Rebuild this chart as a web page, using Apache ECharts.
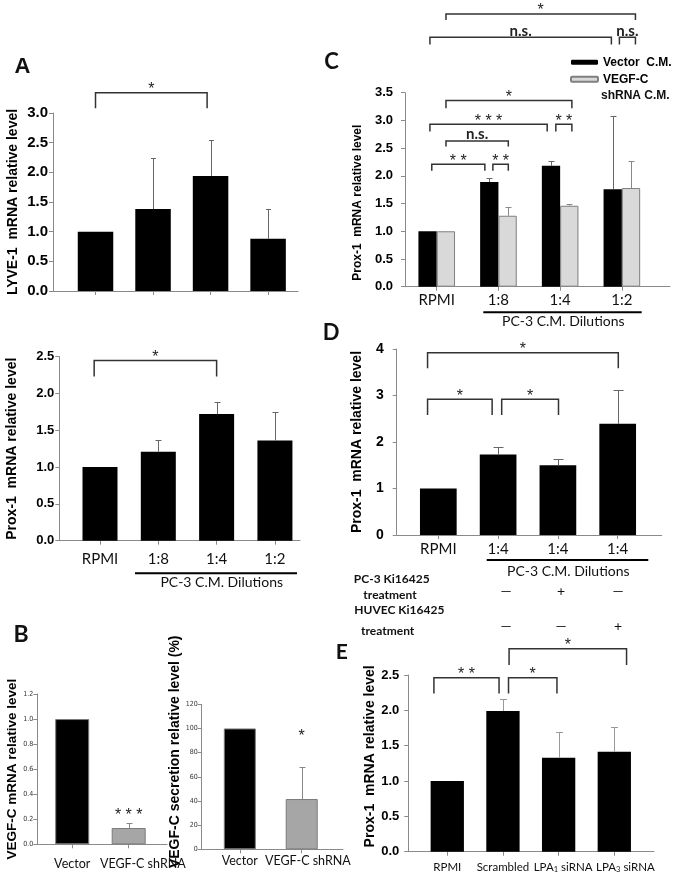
<!DOCTYPE html>
<html>
<head>
<meta charset="utf-8">
<script src="https://cdn.jsdelivr.net/npm/echarts@6/dist/echarts.min.js"></script>
<style>
html, body { margin: 0; padding: 0; background: #fff; }
#chart { width: 679px; height: 878px; }
</style>
</head>
<body>
<div id="chart"></div>
<script>
"use strict";

// A (top): LYVE-1 mRNA
var lyveCats = ["RPMI", "1:8", "1:4", "1:2"];
var lyveMean = [1.0, 1.38, 1.94, 0.88];
var lyveSd = [0, 0.87, 0.60, 0.51];
var lyveTicks = [0, 0.5, 1.0, 1.5, 2.0, 2.5, 3.0];
var lyveBrackets = [[0, 1.94, 3.34, 3.08, "*"]];

// A (bottom): Prox-1 mRNA
var proxACats = ["RPMI", "1:8", "1:4", "1:2"];
var proxAMean = [1.0, 1.21, 1.72, 1.36];
var proxASd = [0, 0.16, 0.16, 0.39];
var proxATicks = [0, 0.5, 1.0, 1.5, 2.0, 2.5];
var proxABrackets = [[-0.1, 2.0, 2.45, 2.23, "*"]];

// B: VEGF-C knockdown
var vegfCats = ["Vector", "VEGF-C shRNA"];
var vegfMrnaMean = [1.0, 0.13];
var vegfMrnaSd = [0, 0.04];
var vegfMrnaTicks = [0, 0.2, 0.4, 0.6, 0.8, 1.0, 1.2];
var vegfMrnaStars = [[1, 0.25, "* * *"]];
var vegfSecMean = [100, 41.6];
var vegfSecSd = [0, 26.5];
var vegfSecTicks = [0, 20, 40, 60, 80, 100, 120];
var vegfSecStars = [[1, 96, "*"]];

// C: Prox-1 with conditioned media
var proxCCats = ["RPMI", "1:8", "1:4", "1:2"];
var proxCNames = ["Vector  C.M.", "VEGF-C shRNA C.M."];
var proxCVector = [1.0, 1.89, 2.18, 1.76];
var proxCVectorSd = [0, 0.07, 0.09, 1.32];
var proxCShrna = [1.0, 1.28, 1.46, 1.78];
var proxCShrnaSd = [0, 0.15, 0.03, 0.48];
var proxCTicks = [0, 0.5, 1.0, 1.5, 2.0, 2.5, 3.0, 3.5];
var proxCBrackets = [
    [-0.08, 0.78, 2.21, 2.09, "* *"],
    [0.91, 1.16, 2.21, 2.09, "* *"],
    [0.15, 1.16, 2.63, 2.53, "n.s."],
    [-0.11, 1.79, 2.93, 2.80, "* * *"],
    [1.93, 2.19, 2.93, 2.80, "* *"],
    [0.15, 2.19, 3.36, 3.22, "*"],
    [-0.11, 2.83, 4.50, 4.37, "n.s."],
    [2.96, 3.22, 4.50, 4.37, "n.s."],
    [0.15, 3.22, 4.92, 4.81, "*"]
];

// D: Ki16425 treatment
var proxDCats = ["RPMI", "1:4", "1:4", "1:4"];
var proxDMean = [1.0, 1.73, 1.50, 2.39];
var proxDSd = [0, 0.16, 0.135, 0.73];
var proxDTicks = [0, 1, 2, 3, 4];
var proxDBrackets = [
    [-0.18, 0.90, 2.92, 2.58, "*"],
    [1.06, 2.01, 2.92, 2.58, "*"],
    [-0.18, 3.01, 3.92, 3.585, "*"]
];
var pc3Treat = ["\u2014", "+", "\u2014"];
var huvecTreat = ["\u2014", "\u2014", "+"];

// E: LPA receptor siRNA
var proxECats = ["RPMI", "Scrambled", "LPA1 siRNA", "LPA3 siRNA"];
var proxEMean = [1.0, 1.99, 1.33, 1.415];
var proxESd = [0, 0.17, 0.36, 0.355];
var proxETicks = [0, 0.5, 1.0, 1.5, 2.0, 2.5];
var proxEBrackets = [
    [-0.24, 0.93, 2.46, 2.24, "* *"],
    [1.10, 1.97, 2.46, 2.24, "*"],
    [1.11, 3.22, 2.87, 2.64, "*"]
];

var ARIAL = "'Liberation Sans', Arial, sans-serif";
var CALIBRI = "Lato, 'Noto Sans', sans-serif";
var NARROW = "'Liberation Sans Narrow', 'DejaVu Sans Condensed', sans-serif";
var AXIS = "#8a8a8a";

var grids = [], xAxes = [], yAxes = [], series = [];

function addPanel(p) {
    var i = grids.length;
    var idx = p.cats.map(function (c, k) { return k; });
    var labelAt = p.labelPos || idx;
    var ticks = p.ticks;
    grids.push({ left: p.left, top: p.top, width: p.width, height: p.height });
    xAxes.push({
        gridIndex: i, type: "value", min: p.xMin, max: p.xMax,
        axisLine: { show: true, onZero: false, lineStyle: { color: AXIS, width: 1 } },
        axisTick: { show: true, customValues: idx, length: 4, lineStyle: { color: AXIS } },
        axisLabel: p.showCats === false ? { show: false } : {
            show: true, customValues: labelAt, margin: p.xMargin,
            showMinLabel: true, showMaxLabel: true, hideOverlap: false,
            fontFamily: CALIBRI, fontSize: p.xSize || 15, color: "#111",
            formatter: function (v) {
                var k = 0;
                labelAt.forEach(function (pos, j) { if (Math.abs(pos - v) < 1e-6) k = j; });
                return p.cats[k].replace(/LPA(\d)/, "LPA{s|$1}");
            },
            rich: { s: { fontFamily: CALIBRI, fontSize: 7.5, verticalAlign: "bottom", lineHeight: 12, color: "#111" } }
        },
        splitLine: { show: false }
    });
    yAxes.push({
        gridIndex: i, type: "value",
        min: ticks[0], max: ticks[ticks.length - 1], interval: ticks[1] - ticks[0],
        axisLine: { show: true, onZero: false, lineStyle: { color: AXIS, width: 1 } },
        axisTick: { show: true, length: 4, lineStyle: { color: AXIS } },
        axisLabel: {
            margin: p.yMargin, color: p.small ? "#333" : "#000",
            fontFamily: p.small ? NARROW : ARIAL, fontWeight: p.small ? "normal" : "bold",
            fontSize: p.ySize || 13,
            formatter: function (v) { return v.toFixed(p.dec); }
        },
        splitLine: { show: false },
        name: p.name, nameLocation: "middle", nameRotate: 90, nameGap: p.nameGap,
        nameTextStyle: {
            fontFamily: ARIAL, fontWeight: "bold", fontSize: p.nameSize, color: "#000",
            padding: p.namePad || 0
        }
    });
    return i;
}

function barSeries(i, name, vals, width, colors, border) {
    return {
        type: "bar", name: name, xAxisIndex: i, yAxisIndex: i, barWidth: width, barGap: "0%",
        silent: true, z: 2,
        itemStyle: { color: colors[0], borderColor: border || colors[0], borderWidth: border ? 1 : 0 },
        data: vals.map(function (v, k) {
            return { value: [k, v], itemStyle: { color: colors[k % colors.length] } };
        })
    };
}

function errorSeries(i, vals, sds, dx, cap, color) {
    return {
        type: "custom", xAxisIndex: i, yAxisIndex: i, z: 4, silent: true,
        data: vals.map(function (v, k) { return [k, v, sds[k]]; }),
        renderItem: function (params, api) {
            var sd = api.value(2);
            if (!sd) return null;
            var lo = api.coord([api.value(0), api.value(1)]);
            var hi = api.coord([api.value(0), api.value(1) + sd]);
            var x = Math.round(lo[0] + dx) + 0.5;
            var y = Math.round(hi[1]) + 0.5;
            return {
                type: "group", children: [
                    { type: "line", shape: { x1: x, y1: lo[1], x2: x, y2: y }, style: { stroke: color, lineWidth: 1 } },
                    { type: "line", shape: { x1: x - cap / 2, y1: y, x2: x + cap / 2, y2: y }, style: { stroke: color, lineWidth: 1 } }
                ]
            };
        }
    };
}

function bracketSeries(i, list) {
    return {
        type: "custom", xAxisIndex: i, yAxisIndex: i, z: 5, silent: true, clip: false,
        data: list.map(function (b) { return [b[0], b[2]]; }),
        renderItem: function (params, api) {
            var b = list[params.dataIndex];
            var p1 = api.coord([b[0], b[3]]), p2 = api.coord([b[0], b[2]]);
            var p3 = api.coord([b[1], b[2]]), p4 = api.coord([b[1], b[3]]);
            var star = b[4].indexOf("*") >= 0;
            return {
                type: "group", children: [
                    { type: "polyline", shape: { points: [p1, p2, p3, p4] },
                      style: { stroke: "#333", lineWidth: 1.5, fill: "none" } },
                    { type: "text", x: (p2[0] + p3[0]) / 2, y: star ? p2[1] - 3 : p2[1] + 1,
                      style: { text: b[4], fill: "#222", textAlign: "center",
                               textVerticalAlign: star ? "middle" : "bottom",
                               font: star ? "16px " + ARIAL : "bold 15px " + CALIBRI } }
                ]
            };
        }
    };
}

function starSeries(i, list) {
    return {
        type: "custom", xAxisIndex: i, yAxisIndex: i, z: 5, silent: true, clip: false,
        data: list.map(function (s) { return [s[0], s[1]]; }),
        renderItem: function (params, api) {
            var s = list[params.dataIndex];
            var p = api.coord([s[0], s[1]]);
            return { type: "text", x: p[0], y: p[1] + 3,
                     style: { text: s[2], fill: "#222", textAlign: "center", textVerticalAlign: "middle",
                              font: "16px " + ARIAL } };
        }
    };
}

// A top
var a1 = addPanel({ cats: lyveCats, showCats: false, ticks: lyveTicks, dec: 1,
    left: 53, top: 113, width: 245, height: 178, xMin: -0.739, xMax: 3.52,
    yMargin: 5, ySize: 15, name: "LYVE-1  mRNA relative level", nameGap: 33, nameSize: 14 });
series.push(barSeries(a1, "LYVE-1", lyveMean, 35.5, ["#000"]));
series.push(errorSeries(a1, lyveMean, lyveSd, 0, 5, "#666"));
series.push(bracketSeries(a1, lyveBrackets));

// A bottom
var a2 = addPanel({ cats: proxACats, ticks: proxATicks, dec: 1, xMargin: 11,
    left: 59.3, top: 356.7, width: 240.7, height: 184, xMin: -0.698, xMax: 3.43,
    yMargin: 5, name: "Prox-1  mRNA relative level", nameGap: 40, nameSize: 14 });
series.push(barSeries(a2, "Prox-1 A", proxAMean, 35, ["#000"]));
series.push(errorSeries(a2, proxAMean, proxASd, 0, 6, "#666"));
series.push(bracketSeries(a2, proxABrackets));

// B left
var b1 = addPanel({ cats: vegfCats, labelPos: [0, 1.25], ticks: vegfMrnaTicks, dec: 1, xMargin: 13, xSize: 12.5,
    small: true, ySize: 7,
    left: 37.3, top: 694, width: 129.7, height: 150.3, xMin: -0.618, xMax: 1.678,
    yMargin: 4, name: "VEGF-C mRNA relative level", nameGap: 12, nameSize: 13.5 });
series.push(barSeries(b1, "VEGF-C mRNA", vegfMrnaMean, 34, ["#000", "#a6a6a6"], "#7a7a7a"));
series.push(errorSeries(b1, vegfMrnaMean, vegfMrnaSd, 0, 6, "#888"));
series.push(starSeries(b1, vegfMrnaStars));

// B right
var b2 = addPanel({ cats: vegfCats, labelPos: [0, 1.1], ticks: vegfSecTicks, dec: 0, xMargin: 5, xSize: 12.5,
    small: true, ySize: 7,
    left: 201.7, top: 704.3, width: 141.3, height: 145, xMin: -0.616, xMax: 1.667,
    yMargin: 4, name: "VEGF-C secretion relative level (%)", nameGap: 9, nameSize: 14, namePad: [0, 0, 0, 50] });
series.push(barSeries(b2, "VEGF-C secretion", vegfSecMean, 32, ["#000", "#a6a6a6"], "#7a7a7a"));
series.push(errorSeries(b2, vegfSecMean, vegfSecSd, 0, 6, "#888"));
series.push(starSeries(b2, vegfSecStars));

// C
var c = addPanel({ cats: proxCCats, ticks: proxCTicks, dec: 1, xMargin: 6,
    left: 405, top: 92.7, width: 265, height: 194, xMin: -0.514, xMax: 3.78,
    yMargin: 12, name: "Prox-1  mRNA relative level", nameGap: 41, nameSize: 12, namePad: [0, 26, 0, 0] });
series.push(barSeries(c, proxCNames[0], proxCVector, 18.3, ["#000"]));
series.push(barSeries(c, proxCNames[1], proxCShrna, 18.3, ["#d9d9d9"], "#7f7f7f"));
series.push(errorSeries(c, proxCVector, proxCVectorSd, -9.15, 6, "#666"));
series.push(errorSeries(c, proxCShrna, proxCShrnaSd, 9.15, 6, "#888"));
series.push(bracketSeries(c, proxCBrackets));

// D
var d = addPanel({ cats: proxDCats, ticks: proxDTicks, dec: 0, xMargin: 7,
    left: 396.7, top: 349, width: 265, height: 186, xMin: -0.696, xMax: 3.736,
    yMargin: 13, ySize: 14, name: "Prox-1  mRNA relative level", nameGap: 33, nameSize: 14 });
series.push(barSeries(d, "Prox-1 D", proxDMean, 36.7, ["#000"]));
series.push(errorSeries(d, proxDMean, proxDSd, 0, 10, "#666"));
series.push(bracketSeries(d, proxDBrackets));

// E
var e = addPanel({ cats: proxECats, labelPos: [0, 1, 2.08, 3.2], ticks: proxETicks, dec: 1, xMargin: 10, xSize: 11.5,
    left: 408.3, top: 675, width: 245.7, height: 176.7, xMin: -0.70, xMax: 3.713,
    yMargin: 9, name: "Prox-1  mRNA relative level", nameGap: 30, nameSize: 14, namePad: [0, 0, 0, 14] });
series.push(barSeries(e, "Prox-1 E", proxEMean, 33.3, ["#000"]));
series.push(errorSeries(e, proxEMean, proxESd, 0, 7, "#999"));
series.push(bracketSeries(e, proxEBrackets));

function txt(s, x, y, font, align) {
    return { type: "text", x: x, y: y, silent: true,
             style: { text: s, font: font, fill: "#111", textAlign: align || "center", textVerticalAlign: "middle" } };
}
function rule(x1, x2, y) {
    return { type: "line", silent: true, shape: { x1: x1, y1: y, x2: x2, y2: y }, style: { stroke: "#000", lineWidth: 2 } };
}

var treatCols = [506, 561, 618];
var graphics = [
    txt("A", 22.5, 67, "bold 22px " + ARIAL),
    txt("B", 21, 635, "bold 23px " + CALIBRI),
    txt("C", 331.5, 61.5, "bold 22px " + CALIBRI),
    txt("D", 331, 333, "bold 22px " + CALIBRI),
    txt("E", 341.7, 652.5, "bold 21px " + CALIBRI),
    txt("shRNA C.M.", 601, 95.7, "bold 12px " + ARIAL, "left"),
    rule(135, 297, 573.3),
    txt("PC-3 C.M. Dilutions", 221.7, 582.3, "14px " + CALIBRI),
    rule(483.3, 641.7, 312.3),
    txt("PC-3 C.M. Dilutions", 563.3, 321.7, "14px " + CALIBRI),
    rule(486.7, 648.3, 560),
    txt("PC-3 C.M. Dilutions", 568.3, 571.7, "14px " + CALIBRI),
    txt("PC-3 Ki16425", 391.7, 579.3, "bold 12px " + CALIBRI),
    txt("treatment", 390, 595, "bold 12px " + CALIBRI),
    txt("HUVEC Ki16425", 399.3, 610, "bold 12px " + CALIBRI),
    txt("treatment", 387.7, 630.7, "bold 12px " + CALIBRI)
];
pc3Treat.forEach(function (s, k) { graphics.push(txt(s, treatCols[k], 591, "14px " + CALIBRI)); });
huvecTreat.forEach(function (s, k) { graphics.push(txt(s, treatCols[k], 626.7, "14px " + CALIBRI)); });

var chart = echarts.init(document.getElementById("chart"));
chart.setOption({
    animation: false,
    backgroundColor: "#fff",
    grid: grids,
    xAxis: xAxes,
    yAxis: yAxes,
    legend: {
        left: 570, top: 55.3, padding: 0, orient: "vertical", itemWidth: 27, itemHeight: 5, itemGap: 3,
        selectedMode: false,
        data: proxCNames,
        formatter: function (n) { return n.replace(" shRNA C.M.", ""); },
        textStyle: { fontFamily: ARIAL, fontWeight: "bold", fontSize: 12, lineHeight: 14, color: "#000" }
    },
    graphic: graphics,
    series: series
});
</script>
</body>
</html>
